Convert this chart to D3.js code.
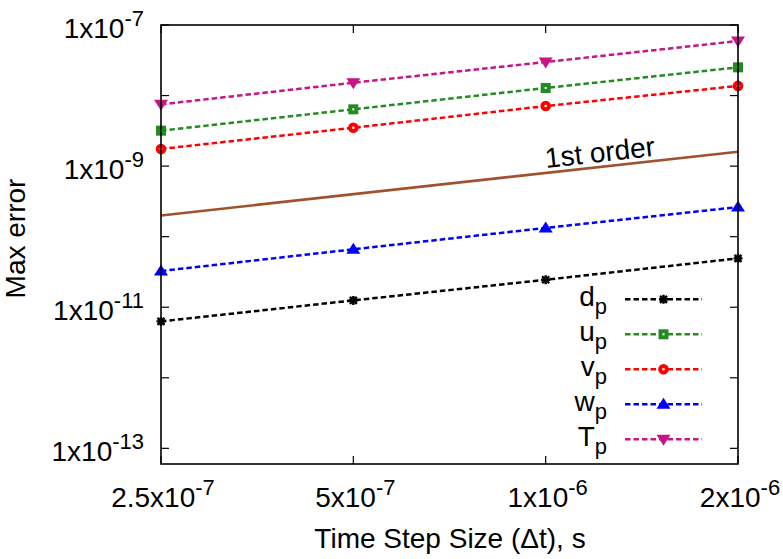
<!DOCTYPE html>
<html><head><meta charset="utf-8">
<script src="https://cdn.jsdelivr.net/npm/d3@7"></script>
<style>body{margin:0;background:#fff} text{font-family:"Liberation Sans",Arial,Helvetica,sans-serif;fill:#000}</style>
</head><body><svg id="c" width="783" height="559"></svg>
<script>
// ---- data ----
const timeSteps = [2.5e-7, 5e-7, 1e-6, 2e-6];
const dP = [6.3e-12, 1.25e-11, 2.45e-11, 4.93e-11];
const uP = [3.18e-9, 6.38e-9, 1.28e-8, 2.51e-8];
const vP = [1.75e-9, 3.5e-9, 7.1e-9, 1.37e-8];
const wP = [3.26e-11, 6.62e-11, 1.33e-10, 2.63e-10];
const TP = [7.5e-9, 1.52e-8, 2.99e-8, 5.93e-8];
const firstOrderX = [2.5e-7, 2e-6];
const firstOrderY = [2.0e-10, 1.6e-9];
const seriesNames = ["d", "u", "v", "w", "T"];
const xTickValues = [2.5e-7, 5e-7, 1e-6, 2e-6];
const xTickMantissa = ["2.5x10", "5x10", "1x10", "2x10"];
const xTickExponent = ["-7", "-7", "-6", "-6"];
const yTickValues = [1e-7, 1e-8, 1e-9, 1e-10, 1e-11, 1e-12, 1e-13];
const yLabelValues = [1e-7, 1e-9, 1e-11, 1e-13];
const yLabelExponent = ["-7", "-9", "-11", "-13"];

const seriesValues = [dP, uP, vP, wP, TP];
const colors = ["#000000", "#228B22", "#FF0000", "#0000FF", "#C71585"];
const markers = ["star", "square", "circle", "tri", "tridown"];

// ---- layout ----
const L = 161, R = 738, T = 25, B = 464;
const FS = 28, SFS = 22;
const svg = d3.select("#c");
const x = d3.scaleLog().domain([2.5e-7, 2e-6]).range([L, R]);
const y = d3.scaleLog().domain([6e-14, 1e-7]).range([B, T]);

function marker(g, type, color, cx, cy) {
  const m = g.append("g").attr("transform", `translate(${cx},${cy})`);
  if (type === "star") {
    m.append("path").attr("d", "M-4.5,0H4.5M0,-4.5V4.5M-3.5,-3.5L3.5,3.5M-3.5,3.5L3.5,-3.5")
      .attr("stroke", color).attr("stroke-width", 2.4).attr("fill", "none");
  } else if (type === "square") {
    m.append("rect").attr("x", -5).attr("y", -5).attr("width", 10).attr("height", 10).attr("fill", color);
    m.append("rect").attr("x", -1).attr("y", -1).attr("width", 2).attr("height", 2).attr("fill", "#fff");
  } else if (type === "circle") {
    m.append("circle").attr("r", 5.3).attr("fill", color);
    m.append("circle").attr("r", 1.3).attr("fill", "#fff");
  } else if (type === "tri") {
    m.append("path").attr("d", "M0,-6.5L7,4.5L-7,4.5Z").attr("fill", color);
  } else if (type === "tridown") {
    m.append("path").attr("d", "M0,6.5L7,-4.5L-7,-4.5Z").attr("fill", color);
  }
}

// ---- ticks (inside, mirrored) ----
const tk = svg.append("g").attr("stroke", "#000").attr("stroke-width", 1.2);
yTickValues.forEach(v => {
  tk.append("line").attr("x1", L).attr("x2", L + 8).attr("y1", y(v)).attr("y2", y(v));
  tk.append("line").attr("x1", R).attr("x2", R - 8).attr("y1", y(v)).attr("y2", y(v));
});
xTickValues.forEach(v => {
  tk.append("line").attr("x1", x(v)).attr("x2", x(v)).attr("y1", B).attr("y2", B - 8);
  tk.append("line").attr("x1", x(v)).attr("x2", x(v)).attr("y1", T).attr("y2", T + 8);
});

// ---- tick labels ----
yLabelValues.forEach((v, i) => {
  const t = svg.append("text").attr("x", 144).attr("y", y(v) + 12.5)
    .attr("text-anchor", "end").attr("font-size", FS);
  t.append("tspan").text("1x10");
  t.append("tspan").attr("dy", -12).attr("font-size", SFS).text(yLabelExponent[i]);
});
xTickValues.forEach((v, i) => {
  const t = svg.append("text").attr("x", x(v) + 2).attr("y", B + 42.7)
    .attr("text-anchor", "middle").attr("font-size", FS);
  t.append("tspan").text(xTickMantissa[i]);
  t.append("tspan").attr("dy", -12).attr("font-size", SFS).text(xTickExponent[i]);
});

// axis titles
svg.append("text").attr("x", 450).attr("y", B + 84)
  .attr("text-anchor", "middle").attr("font-size", FS).text("Time Step Size (\u0394t), s");
svg.append("text").attr("transform", `translate(25,${(T + B) / 2 - 6}) rotate(-90)`)
  .attr("text-anchor", "middle").attr("font-size", FS).text("Max error");

// ---- 1st order line ----
svg.append("path")
  .attr("d", d3.line().x(d => x(d[0])).y(d => y(d[1]))(firstOrderX.map((v, i) => [v, firstOrderY[i]])))
  .attr("stroke", "#A0522D").attr("stroke-width", 2.6).attr("fill", "none");
const ang = Math.atan2(y(firstOrderY[1]) - y(firstOrderY[0]), x(firstOrderX[1]) - x(firstOrderX[0])) * 180 / Math.PI;
const lx = 546, lyLine = y(firstOrderY[0]) + (lx - x(firstOrderX[0])) * Math.tan(ang * Math.PI / 180);
svg.append("text").attr("transform", `translate(${lx},${lyLine - 5}) rotate(${ang})`)
  .attr("font-size", FS).text("1st order");

// ---- series ----
const lineGen = d3.line().x((d, i) => x(timeSteps[i])).y(d => y(d));
seriesValues.forEach((vals, si) => {
  svg.append("path").attr("d", lineGen(vals))
    .attr("stroke", colors[si]).attr("stroke-width", 2.5).attr("stroke-dasharray", "5.5,3")
    .attr("fill", "none");
});
seriesValues.forEach((vals, si) => {
  vals.forEach((v, i) => marker(svg, markers[si], colors[si], x(timeSteps[i]), y(v)));
});

// ---- legend ----
seriesNames.forEach((n, si) => {
  const ry = 299.3 + si * 35;
  const t = svg.append("text").attr("x", 607).attr("y", ry + 7)
    .attr("text-anchor", "end").attr("font-size", FS);
  t.append("tspan").text(n);
  t.append("tspan").attr("dy", 8).attr("font-size", SFS).text("p");
  svg.append("line").attr("x1", 625).attr("x2", 702).attr("y1", ry).attr("y2", ry)
    .attr("stroke", colors[si]).attr("stroke-width", 2.5).attr("stroke-dasharray", "5.5,3");
  marker(svg, markers[si], colors[si], 663.5, ry);
});

// ---- frame ----
svg.append("rect").attr("x", L).attr("y", T).attr("width", R - L).attr("height", B - T)
  .attr("fill", "none").attr("stroke", "#000").attr("stroke-width", 1.6);
</script></body></html>
